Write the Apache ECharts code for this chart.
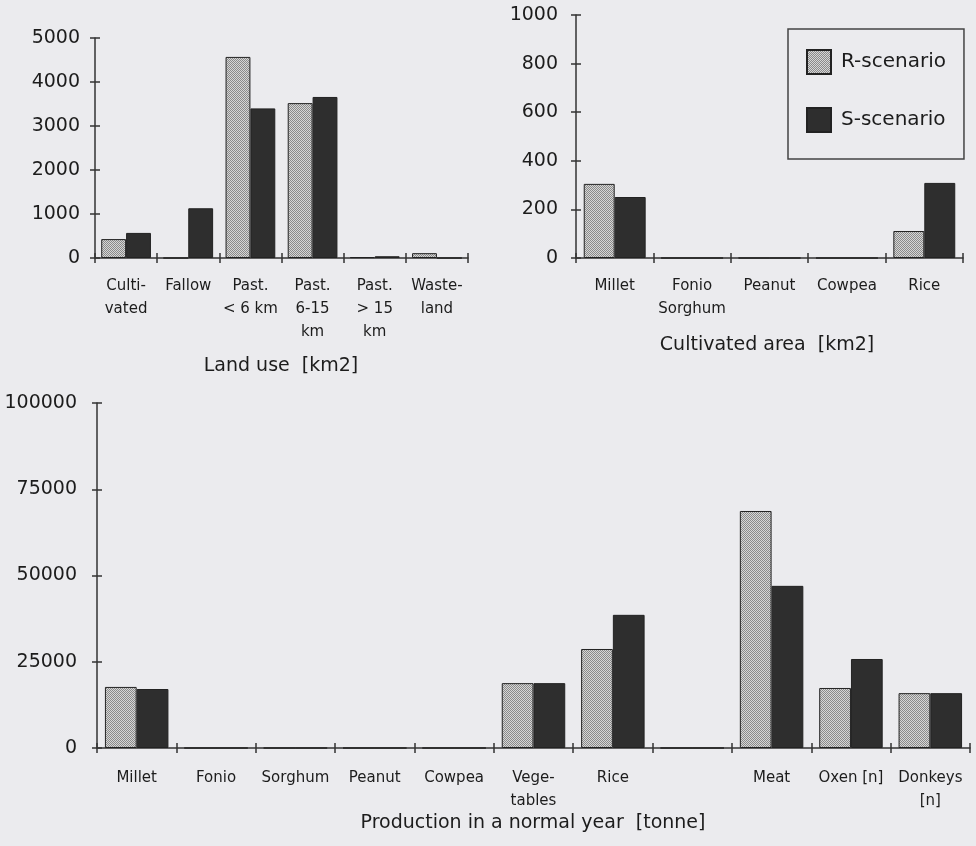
<!DOCTYPE html>
<html>
<head>
<meta charset="utf-8">
<script src="https://cdn.jsdelivr.net/npm/echarts@6/dist/echarts.min.js"></script>
<style>
  html, body { margin: 0; padding: 0; background: #ebebee; }
  #chart { width: 976px; height: 846px; }
</style>
</head>
<body>
<div id="chart"></div>
<script>
// Land use [km2]
const landCats = ['Culti-\nvated', 'Fallow', 'Past.\n< 6 km', 'Past.\n6-15\nkm', 'Past.\n> 15\nkm', 'Waste-\nland'];
const landR = [430, 0, 4570, 3520, 20, 110];
const landS = [570, 1130, 3400, 3660, 40, 0];

// Cultivated area [km2]
const cropCats = ['Millet', 'Fonio\nSorghum', 'Peanut', 'Cowpea', 'Rice'];
const cropR = [305, 0, 0, 0, 111];
const cropS = [251, 0, 0, 0, 309];

// Production in a normal year [tonne]
const prodCats = ['Millet', 'Fonio', 'Sorghum', 'Peanut', 'Cowpea', 'Vege-\ntables', 'Rice', '', 'Meat', 'Oxen [n]', 'Donkeys\n[n]'];
const prodR = [17700, 0, 0, 0, 0, 18800, 28700, 0, 68700, 17400, 15900];
const prodS = [17100, 0, 0, 0, 0, 18800, 38600, 0, 47000, 25800, 15900];

const seriesNames = ['R-scenario', 'S-scenario'];

// stippled fill for the R-scenario bars
const stipple = document.createElement('canvas');
stipple.width = 2; stipple.height = 2;
const sctx = stipple.getContext('2d');
sctx.fillStyle = '#d6d6d6'; sctx.fillRect(0, 0, 2, 2);
sctx.fillStyle = '#8a8a8a'; sctx.fillRect(0, 0, 1, 1); sctx.fillRect(1, 1, 1, 1);
const rFill = { image: stipple, repeat: 'repeat' };
const sFill = '#2e2e2e';

const FONT = 'DejaVu Sans';
const INK = '#1c1c1c';
const AXIS = { lineStyle: { color: '#333', width: 1.5 } };

const grids = [
  { left: 95, top: 38, width: 373, height: 220 },
  { left: 576, top: 15, width: 387, height: 243 },
  { left: 97, top: 403, width: 873, height: 345 }
];
const cats = [landCats, cropCats, prodCats];
const yMax = [5000, 1000, 100000];
const yStep = [1000, 200, 25000];
const yLabelMargin = [15, 18, 20];
const xLabelMargin = [17, 17, 19];

const xAxes = [], yAxes = [];
cats.forEach((c, i) => {
  // main category axis with labels, ticks pointing down
  xAxes.push({
    type: 'category', gridIndex: i, data: c, position: 'bottom',
    axisLine: AXIS,
    axisTick: { show: true, length: 5, lineStyle: { color: '#333', width: 1.5 } },
    axisLabel: { color: INK, fontFamily: FONT, fontSize: 15, lineHeight: 23, margin: xLabelMargin[i], interval: 0 }
  });
  // companion axis so ticks also reach above the baseline
  xAxes.push({
    type: 'category', gridIndex: i, data: c, position: 'bottom',
    axisLine: { show: false },
    axisTick: { show: true, inside: true, length: 5, lineStyle: { color: '#333', width: 1.5 } },
    axisLabel: { show: false }
  });
  yAxes.push({
    type: 'value', gridIndex: i, min: 0, max: yMax[i], interval: yStep[i], position: 'left',
    axisLine: { show: true, lineStyle: { color: '#333', width: 1.5 } },
    axisTick: { show: true, length: 5, lineStyle: { color: '#333', width: 1.5 } },
    splitLine: { show: false },
    axisLabel: { color: INK, fontFamily: FONT, fontSize: 19, margin: yLabelMargin[i], formatter: v => String(v) }
  });
  yAxes.push({
    type: 'value', gridIndex: i, min: 0, max: yMax[i], interval: yStep[i], position: 'left',
    axisLine: { show: false },
    axisTick: { show: true, inside: true, length: 5, lineStyle: { color: '#333', width: 1.5 } },
    splitLine: { show: false },
    axisLabel: { show: false }
  });
});

const pairs = [[landR, landS], [cropR, cropS], [prodR, prodS]];
const series = [];
pairs.forEach((p, i) => {
  p.forEach((vals, k) => {
    series.push({
      name: seriesNames[k], type: 'bar',
      xAxisIndex: i * 2, yAxisIndex: i * 2,
      data: vals,
      barGap: '0%', barCategoryGap: '20%',
      itemStyle: { color: k === 0 ? rFill : sFill, borderColor: '#222', borderWidth: 1 },
      emphasis: { disabled: true },
      animation: false
    });
  });
});

const titleStyle = { color: INK, fontFamily: FONT, fontSize: 19, fontWeight: 'normal' };

const chart = echarts.init(document.getElementById('chart'), null, { renderer: 'canvas' });
chart.setOption({
  backgroundColor: '#ebebee',
  animation: false,
  title: [
    { text: 'Land use  [km2]', left: 281, top: 357, textAlign: 'center', padding: 0, textStyle: titleStyle },
    { text: 'Cultivated area  [km2]', left: 767, top: 336, textAlign: 'center', padding: 0, textStyle: titleStyle },
    { text: 'Production in a normal year  [tonne]', left: 533, top: 814, textAlign: 'center', padding: 0, textStyle: titleStyle }
  ],
  legend: {
    data: seriesNames, orient: 'vertical', left: 788, top: 29,
    padding: [20, 18, 26, 18], itemWidth: 24, itemHeight: 24, itemGap: 32,
    borderColor: '#444', borderWidth: 1.5, backgroundColor: 'transparent',
    icon: 'rect', selectedMode: false,
    textStyle: { color: INK, fontFamily: FONT, fontSize: 20, padding: [0, 0, 0, 5] }
  },
  grid: grids,
  xAxis: xAxes,
  yAxis: yAxes,
  series: series
});
</script>
</body>
</html>
